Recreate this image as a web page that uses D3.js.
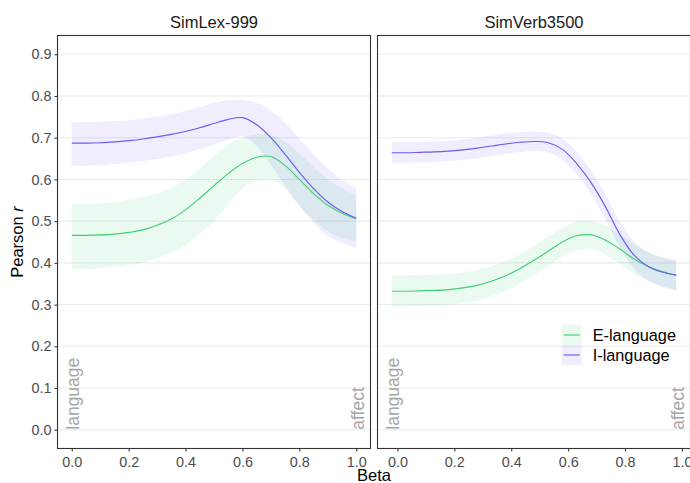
<!DOCTYPE html>
<html>
<head>
<meta charset="utf-8">
<script src="https://cdn.jsdelivr.net/npm/d3@7"></script>
<style>
  body { margin: 0; background: #fff; }
  svg { display: block; }
  text { font-family: "Liberation Sans", Arial, sans-serif; }
</style>
</head>
<body>
<svg id="chart" width="690" height="483"></svg>
<script>
// Beta grid shared by every fitted curve
const betas = [0, 0.05, 0.1, 0.15, 0.2, 0.25, 0.3, 0.35, 0.4, 0.45, 0.5,
               0.55, 0.6, 0.65, 0.7, 0.75, 0.8, 0.85, 0.9, 0.95, 1.0];

// SimLex-999: fitted Pearson r with confidence band
const simlexE   = [0.466,0.466,0.467,0.469,0.473,0.479,0.490,0.505,0.527,0.555,0.585,0.614,0.638,0.653,0.655,0.633,0.600,0.566,0.538,0.519,0.506];
const simlexELo = [0.385,0.385,0.387,0.390,0.395,0.401,0.411,0.424,0.443,0.470,0.500,0.540,0.578,0.598,0.601,0.577,0.538,0.503,0.476,0.460,0.450];
const simlexEHi = [0.541,0.541,0.543,0.546,0.552,0.558,0.567,0.580,0.600,0.627,0.657,0.683,0.700,0.707,0.706,0.690,0.662,0.630,0.600,0.578,0.562];
const simlexI   = [0.687,0.687,0.688,0.690,0.693,0.697,0.702,0.708,0.715,0.724,0.734,0.744,0.748,0.731,0.700,0.660,0.617,0.578,0.546,0.523,0.507];
const simlexILo = [0.633,0.633,0.634,0.637,0.640,0.644,0.649,0.655,0.663,0.673,0.684,0.696,0.703,0.680,0.635,0.585,0.536,0.496,0.465,0.448,0.435];
const simlexIHi = [0.737,0.737,0.738,0.740,0.742,0.746,0.751,0.757,0.764,0.773,0.783,0.790,0.791,0.783,0.765,0.735,0.698,0.660,0.627,0.598,0.579];

// SimVerb3500: fitted Pearson r with confidence band
const simverbE   = [0.332,0.332,0.333,0.334,0.336,0.340,0.346,0.356,0.369,0.386,0.406,0.428,0.450,0.465,0.467,0.455,0.434,0.410,0.392,0.379,0.370];
const simverbELo = [0.295,0.295,0.296,0.297,0.299,0.303,0.309,0.320,0.333,0.351,0.371,0.393,0.416,0.431,0.433,0.420,0.399,0.375,0.357,0.344,0.335];
const simverbEHi = [0.370,0.370,0.371,0.372,0.374,0.377,0.383,0.392,0.405,0.421,0.441,0.463,0.484,0.499,0.501,0.490,0.469,0.445,0.427,0.414,0.405];
const simverbI   = [0.664,0.664,0.665,0.666,0.668,0.671,0.675,0.680,0.685,0.689,0.691,0.688,0.672,0.638,0.593,0.536,0.470,0.420,0.392,0.378,0.371];
const simverbILo = [0.640,0.640,0.641,0.642,0.644,0.647,0.651,0.656,0.661,0.666,0.669,0.665,0.647,0.611,0.565,0.506,0.440,0.388,0.358,0.343,0.334];
const simverbIHi = [0.689,0.689,0.690,0.691,0.693,0.696,0.700,0.705,0.710,0.713,0.714,0.712,0.698,0.666,0.622,0.566,0.501,0.452,0.425,0.412,0.407];

const panelTitles = ["SimLex-999", "SimVerb3500"];
const seriesNames = ["E-language", "I-language"];
const yTicks = [0, 0.1, 0.2, 0.3, 0.4, 0.5, 0.6, 0.7, 0.8, 0.9];
const xTicks = [0, 0.2, 0.4, 0.6, 0.8, 1.0];
const endLabels = [{beta: 0, text: "language"}, {beta: 1, text: "affect"}];

const colors = {"E-language": "#3ecf72", "I-language": "#6a5cf2"};
const bandOpacity = 0.11;

const panels = [
  { title: panelTitles[0], left: 57.5, dodge: 0,
    series: [
      { name: seriesNames[0], mean: simlexE, lo: simlexELo, hi: simlexEHi },
      { name: seriesNames[1], mean: simlexI, lo: simlexILo, hi: simlexIHi }
    ] },
  { title: panelTitles[1], left: 377.5, dodge: -0.02,
    series: [
      { name: seriesNames[0], mean: simverbE, lo: simverbELo, hi: simverbEHi },
      { name: seriesNames[1], mean: simverbI, lo: simverbILo, hi: simverbIHi }
    ] }
];

const panelW = 313, panelTop = 35.5, panelBottom = 448.5;
const svg = d3.select("#chart");
const smooth = d3.curveCatmullRom.alpha(0.5);

const y = d3.scaleLinear().domain([-0.045, 0.945]).range([panelBottom, panelTop]);

panels.forEach((p, pi) => {
  const x = d3.scaleLinear()
    .domain([-0.05 + p.dodge, 1.05 + p.dodge])
    .range([p.left, p.left + panelW]);
  const px = b => x(b + p.dodge);

  const clipId = "clip" + pi;
  svg.append("clipPath").attr("id", clipId)
    .append("rect").attr("x", p.left).attr("y", panelTop)
    .attr("width", panelW).attr("height", panelBottom - panelTop);

  const g = svg.append("g").attr("clip-path", `url(#${clipId})`);

  // horizontal grid
  g.selectAll("line.grid").data(yTicks).join("line")
    .attr("class", "grid")
    .attr("x1", p.left).attr("x2", p.left + panelW)
    .attr("y1", d => y(d)).attr("y2", d => y(d))
    .attr("stroke", "#ebebeb").attr("stroke-width", 1.07);

  // confidence bands
  p.series.forEach(s => {
    const area = d3.area()
      .x((d, i) => px(betas[i]))
      .y0((d, i) => y(s.lo[i]))
      .y1((d, i) => y(s.hi[i]))
      .curve(smooth);
    g.append("path").datum(betas)
      .attr("d", area)
      .attr("fill", colors[s.name])
      .attr("fill-opacity", bandOpacity);
  });

  // fitted curves
  p.series.forEach(s => {
    const line = d3.line()
      .x((d, i) => px(betas[i]))
      .y((d, i) => y(s.mean[i]))
      .curve(smooth);
    g.append("path").datum(betas)
      .attr("d", line)
      .attr("fill", "none")
      .attr("stroke", colors[s.name])
      .attr("stroke-width", 1.15);
  });

  // end-point annotations along the beta axis
  endLabels.forEach(l => {
    const tx = px(l.beta) + 7.5, ty = y(0);
    g.append("text")
      .attr("transform", `translate(${tx},${ty}) rotate(-90)`)
      .attr("text-anchor", "start")
      .attr("font-size", 17.5)
      .attr("fill", "#a6a6a6")
      .text(l.text);
  });

  // panel border
  svg.append("rect")
    .attr("x", p.left).attr("y", panelTop)
    .attr("width", panelW).attr("height", panelBottom - panelTop)
    .attr("fill", "none").attr("stroke", "#333333").attr("stroke-width", 1.1);

  // strip title
  svg.append("text")
    .attr("x", p.left + panelW / 2).attr("y", 28)
    .attr("text-anchor", "middle")
    .attr("font-size", 16.5).attr("fill", "#1a1a1a")
    .text(p.title);

  // x axis
  const xAxis = svg.append("g")
    .attr("transform", `translate(0,${panelBottom})`)
    .call(d3.axisBottom(x).tickValues(xTicks).tickFormat(d3.format(".1f"))
      .tickSize(3).tickPadding(5));
  xAxis.select(".domain").remove();
  xAxis.selectAll(".tick line").attr("stroke", "#333333").attr("stroke-width", 1.07);
  xAxis.selectAll(".tick text").attr("fill", "#4d4d4d").attr("font-size", 14.4)
    .attr("font-family", '"Liberation Sans", Arial, sans-serif');

  // y axis on the first panel only
  if (pi === 0) {
    const yAxis = svg.append("g")
      .attr("transform", `translate(${p.left},0)`)
      .call(d3.axisLeft(y).tickValues(yTicks).tickFormat(d3.format(".1f"))
        .tickSize(3).tickPadding(3));
    yAxis.select(".domain").remove();
    yAxis.selectAll(".tick line").attr("stroke", "#333333").attr("stroke-width", 1.07);
    yAxis.selectAll(".tick text").attr("fill", "#4d4d4d").attr("font-size", 14.4)
      .attr("font-family", '"Liberation Sans", Arial, sans-serif');
  }
});

// axis titles
svg.append("text")
  .attr("x", (57.5 + 377.5 + panelW) / 2).attr("y", 480.5)
  .attr("text-anchor", "middle").attr("font-size", 16.5).attr("fill", "#000")
  .text("Beta");

const yTitle = svg.append("text")
  .attr("transform", `translate(23,${(panelTop + panelBottom) / 2}) rotate(-90)`)
  .attr("text-anchor", "middle").attr("font-size", 16.5).attr("fill", "#000");
yTitle.append("tspan").text("Pearson ");
yTitle.append("tspan").attr("font-style", "italic").text("r");

// legend
const legend = svg.append("g").attr("transform", "translate(561.7,325)");
seriesNames.forEach((name, i) => {
  const row = legend.append("g").attr("transform", `translate(0,${i * 20})`);
  row.append("rect").attr("width", 20).attr("height", 20)
    .attr("fill", colors[name]).attr("fill-opacity", bandOpacity);
  row.append("line").attr("x1", 2).attr("x2", 18).attr("y1", 10).attr("y2", 10)
    .attr("stroke", colors[name]).attr("stroke-width", 1.15);
  row.append("text").attr("x", 31).attr("y", 10).attr("dy", "0.35em")
    .attr("font-size", 16.3).attr("fill", "#000").text(name);
});
</script>
</body>
</html>
